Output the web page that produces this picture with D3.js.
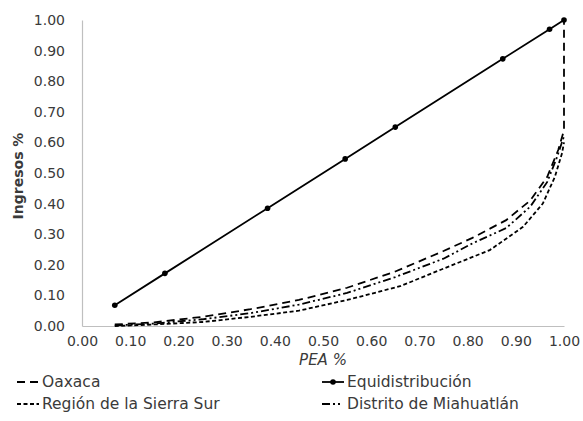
<!DOCTYPE html>
<html>
<head>
<meta charset="utf-8">
<script src="https://cdn.jsdelivr.net/npm/d3@7"></script>
<style>
  html, body { margin: 0; padding: 0; background: #fff; }
  svg { display: block; }
  text { font-family: "DejaVu Sans", "Noto Sans", sans-serif; fill: #3a3a3a; }
</style>
</head>
<body>
<svg id="chart" width="583" height="421"></svg>
<script>
// Tick labels for both axes
const tickValues = [0, 0.1, 0.2, 0.3, 0.4, 0.5, 0.6, 0.7, 0.8, 0.9, 1.0];

// Line of equal distribution (cumulative PEA share = cumulative income share)
const equiX = [0.068, 0.172, 0.385, 0.546, 0.65, 0.873, 0.97, 1.0];
const equiY = [0.068, 0.172, 0.385, 0.546, 0.65, 0.873, 0.97, 1.0];

// Lorenz curve: Oaxaca
const oaxacaX = [0.068, 0.15, 0.25, 0.35, 0.45, 0.55, 0.65, 0.75, 0.81, 0.88, 0.93, 0.965, 0.988, 1.0, 1.0];
const oaxacaY = [0.005, 0.012, 0.03, 0.055, 0.085, 0.125, 0.178, 0.245, 0.288, 0.346, 0.41, 0.487, 0.575, 0.64, 1.0];

// Lorenz curve: Región de la Sierra Sur
const sierraX = [0.068, 0.15, 0.25, 0.35, 0.45, 0.504, 0.55, 0.66, 0.743, 0.846, 0.915, 0.956, 0.981, 0.996, 1.0];
const sierraY = [0.0, 0.005, 0.013, 0.03, 0.05, 0.069, 0.085, 0.13, 0.183, 0.248, 0.324, 0.40, 0.487, 0.565, 0.60];

// Lorenz curve: Distrito de Miahuatlán
const miahuaX = [0.068, 0.15, 0.25, 0.35, 0.45, 0.55, 0.65, 0.75, 0.81, 0.88, 0.93, 0.965, 0.985, 1.0];
const miahuaY = [0.002, 0.008, 0.022, 0.042, 0.07, 0.108, 0.16, 0.22, 0.27, 0.32, 0.39, 0.47, 0.55, 0.62];

const svg = d3.select("#chart");
const x = d3.scaleLinear().domain([0, 1]).range([82, 564]);
const y = d3.scaleLinear().domain([0, 1]).range([326, 20]);
const fmt = d3.format(".2f");

// Axes (no tick marks, light grey domain lines)
const gx = svg.append("g").attr("transform", `translate(0,${y(0)})`)
  .call(d3.axisBottom(x).tickValues(tickValues).tickFormat(fmt).tickSize(0).tickPadding(10));
const gy = svg.append("g").attr("transform", `translate(${x(0)},0)`)
  .call(d3.axisLeft(y).tickValues(tickValues).tickFormat(fmt).tickSize(0).tickPadding(17));
[gx, gy].forEach(g => {
  g.select(".domain").attr("stroke", "#bfbfbf").attr("stroke-width", 1.2);
  g.selectAll("text").style("font-size", "14px").attr("fill", "#3a3a3a");
});

// Axis titles
svg.append("text").attr("x", (x(0) + x(1)) / 2).attr("y", 365)
  .attr("text-anchor", "middle").style("font-size", "15px").style("font-style", "italic")
  .text("PEA %");
svg.append("text").attr("transform", `translate(23,${y(0.5) + 3}) rotate(-90)`)
  .attr("text-anchor", "middle").style("font-size", "14px").style("font-weight", "bold")
  .attr("fill", "#000")
  .text("Ingresos %");

const series = [
  { name: "Oaxaca", xs: oaxacaX, ys: oaxacaY, dash: "8,5", legendLen: 21 },
  { name: "Región de la Sierra Sur", xs: sierraX, ys: sierraY, dash: "4,2.5", legendLen: 22 },
  { name: "Distrito de Miahuatlán", xs: miahuaX, ys: miahuaY, dash: "8,3,2,3,2,3", legendLen: 20 },
  { name: "Equidistribución", xs: equiX, ys: equiY, dash: null, markers: true, legendLen: 22 }
];

const line = d3.line().x(d => x(d[0])).y(d => y(d[1])).curve(d3.curveLinear);

series.forEach(s => {
  const pts = s.xs.map((v, i) => [v, s.ys[i]]);
  svg.append("path").datum(pts)
    .attr("d", line).attr("fill", "none").attr("stroke", "#000")
    .attr("stroke-width", 1.8)
    .attr("stroke-dasharray", s.dash);
  if (s.markers) {
    svg.append("g").selectAll("circle").data(pts).join("circle")
      .attr("cx", d => x(d[0])).attr("cy", d => y(d[1])).attr("r", 2.8).attr("fill", "#000");
  }
});

// Legend in two columns
const legendItems = [
  { s: series[0], lx: 17, ly: 382 },
  { s: series[3], lx: 322, ly: 382 },
  { s: series[1], lx: 17, ly: 404 },
  { s: series[2], lx: 322, ly: 404 }
];
const lg = svg.append("g");
legendItems.forEach(it => {
  lg.append("line").attr("x1", it.lx).attr("x2", it.lx + it.s.legendLen)
    .attr("y1", it.ly).attr("y2", it.ly)
    .attr("stroke", "#000").attr("stroke-width", 1.8)
    .attr("stroke-dasharray", it.s.dash);
  if (it.s.markers) {
    lg.append("circle").attr("cx", it.lx + 11).attr("cy", it.ly).attr("r", 2.8).attr("fill", "#000");
  }
  lg.append("text").attr("x", it.lx + 25).attr("y", it.ly).attr("dy", "0.35em")
    .style("font-size", "15.5px").text(it.s.name);
});
</script>
</body>
</html>
